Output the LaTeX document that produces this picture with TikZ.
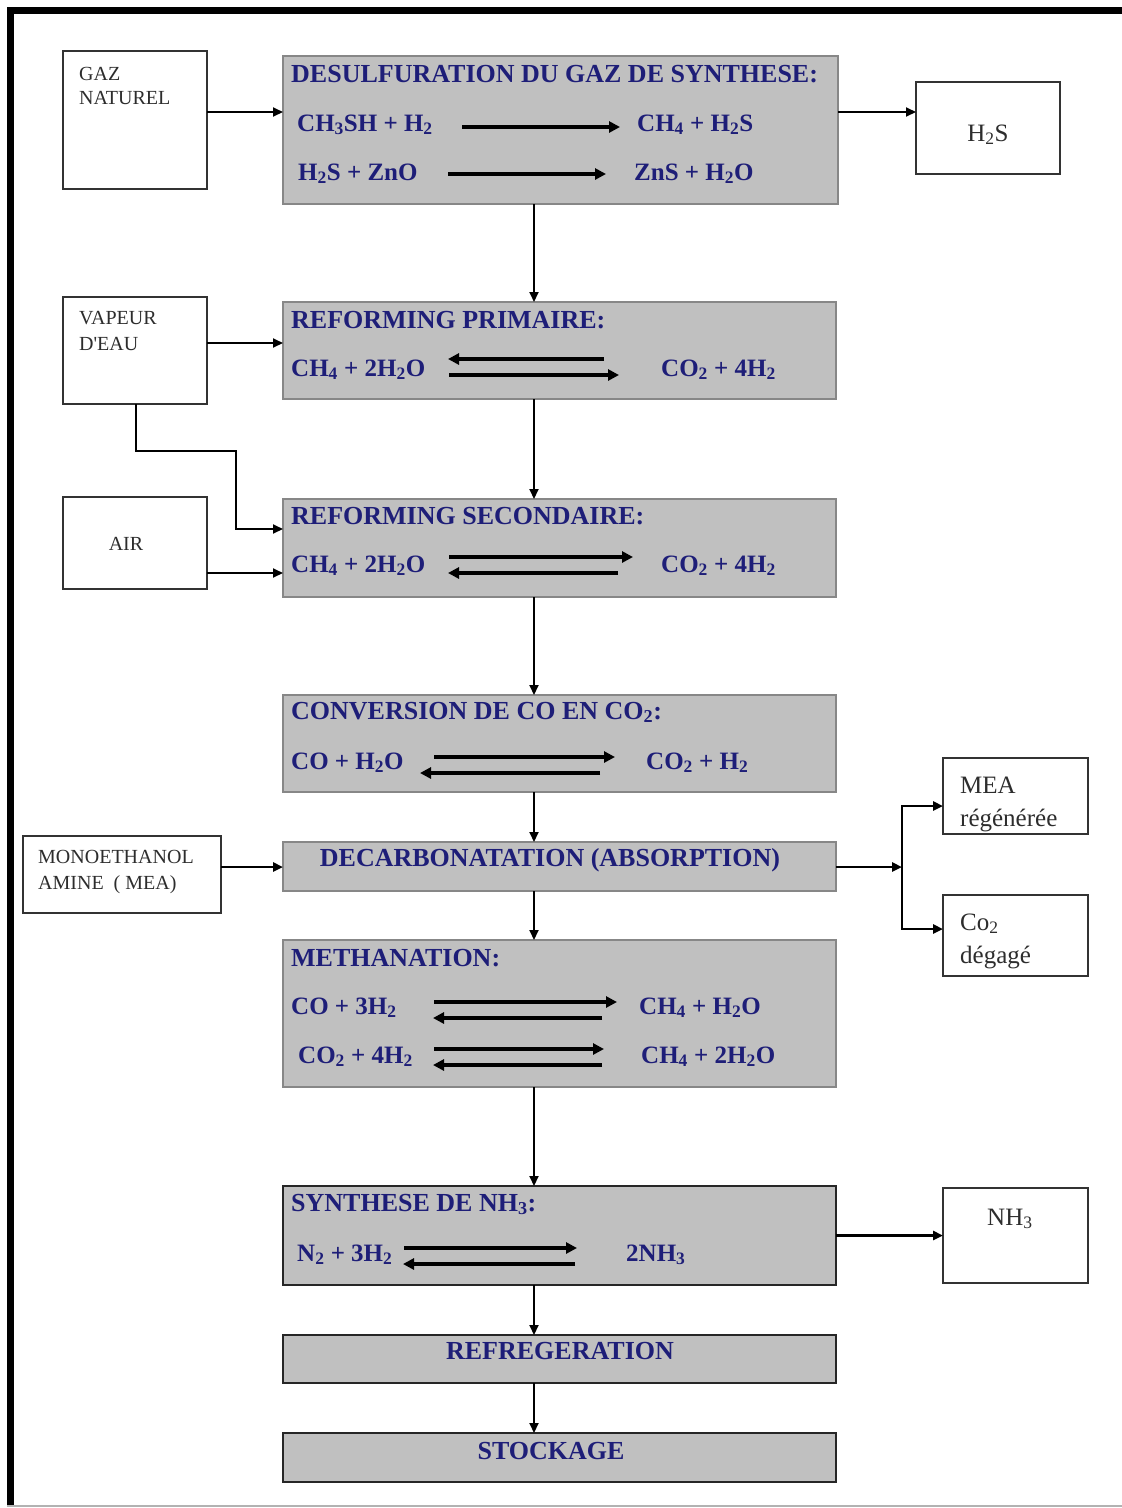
\documentclass[tikz,border=0pt]{standalone}
\usepackage{fontspec}
\setmainfont{Liberation Serif}[Ligatures=TeXOff]
\usetikzlibrary{arrows.meta}
\definecolor{ink}{RGB}{30,30,120}
\definecolor{panel}{RGB}{192,192,192}
\definecolor{panelrule}{RGB}{135,135,135}
\definecolor{labelink}{RGB}{45,45,45}
\newcommand{\sbs}[1]{\textsubscript{#1}}

\begin{document}
\begin{tikzpicture}[x=1pt,y=-1pt,
  stage/.style={draw=panelrule,line width=1.5pt,fill=panel,anchor=north west,inner sep=0pt,outer sep=0pt},
  stagedark/.style={stage,draw=black!85,line width=2.2pt},
  feed/.style={draw=black!80,line width=1.8pt,fill=white,anchor=north west,inner sep=0pt,outer sep=0pt},
  chem/.style={anchor=base west,inner sep=0pt,text=ink,font=\fontsize{25}{25}\selectfont\bfseries},
  title/.style={chem,font=\fontsize{26}{26}\selectfont\bfseries},
  ctitle/.style={title,anchor=base},
  lbl/.style={anchor=base west,inner sep=0pt,text=labelink,font=\fontsize{20}{20}\selectfont},
  lblbig/.style={lbl,font=\fontsize{25}{25}\selectfont},
  flow/.style={draw=black,line width=1.9pt,-{Triangle[length=10pt,width=9pt]}},
  heavyflow/.style={flow,line width=2.8pt},
  react/.style={draw=black,line width=3.2pt,-{Triangle[length=11pt,width=11pt]}},
]
% page and frame
\fill[white] (0,0) rectangle (1122,1508);
\useasboundingbox (0,0) rectangle (1122,1508);
\fill[black] (7,7) rectangle (14,1506);
\fill[black] (7,7) rectangle (1122,14);
\draw[black!30,line width=1.5pt] (7,1506) -- (1122,1506);

% helper coordinates for connector routing
\coordinate (spine) at (534,0);
\coordinate (y112) at (0,112);
\coordinate (y343) at (0,343);
\coordinate (y529) at (0,529);
\coordinate (y573) at (0,573);
\coordinate (y867) at (0,867);
\coordinate (y806) at (0,806);
\coordinate (y929) at (0,929);
\coordinate (elbowA) at (136,0);
\coordinate (elbowB) at (236,451);
\coordinate (split) at (902,867);

% process stages
\node[stage,minimum width=555pt,minimum height=148pt] (desulf) at (283,56) {};
\node[stage,minimum width=553pt,minimum height=97pt] (prim) at (283,302) {};
\node[stage,minimum width=553pt,minimum height=98pt] (sec) at (283,499) {};
\node[stage,minimum width=553pt,minimum height=97pt] (conv) at (283,695) {};
\node[stage,minimum width=553pt,minimum height=49pt] (decarb) at (283,842) {};
\node[stage,minimum width=553pt,minimum height=147pt] (meth) at (283,940) {};
\node[stagedark,minimum width=553pt,minimum height=99pt] (synth) at (283,1186) {};
\node[stagedark,minimum width=553pt,minimum height=48pt] (refr) at (283,1335) {};
\node[stagedark,minimum width=553pt,minimum height=49pt] (stock) at (283,1433) {};

% feeds and products
\node[feed,minimum width=144pt,minimum height=138pt] (gaz) at (63,51) {};
\node[feed,minimum width=144pt,minimum height=92pt] (h2s) at (916,82) {};
\node[feed,minimum width=144pt,minimum height=107pt] (vap) at (63,297) {};
\node[feed,minimum width=144pt,minimum height=92pt] (air) at (63,497) {};
\node[feed,minimum width=198pt,minimum height=77pt] (mono) at (23,836) {};
\node[feed,minimum width=145pt,minimum height=76pt] (mea) at (943,758) {};
\node[feed,minimum width=145pt,minimum height=81pt] (co2) at (943,895) {};
\node[feed,minimum width=145pt,minimum height=95pt] (nh3) at (943,1188) {};

% feed and product labels
\node[lbl] (gazA) at (79,80) {GAZ};
\node[lbl] (gazB) at (79,104) {NATUREL};
\node[lblbig,anchor=base] (h2sT) at (988,141) {H\sbs{2}S};
\node[lbl] (vapA) at (79,324) {VAPEUR};
\node[lbl] (vapB) at (79,350) {D'EAU};
\node[lbl,anchor=base] (airT) at (126,550) {AIR};
\node[lbl] (monoA) at (38,863) {MONOETHANOL};
\node[lbl] (monoB) at (38,889) {AMINE~~( MEA)};
\node[lblbig] (meaA) at (960,793) {MEA};
\node[lblbig] (meaB) at (960,826) {régénérée};
\node[lblbig] (co2A) at (960,930) {Co\sbs{2}};
\node[lblbig] (co2B) at (960,963) {dégagé};
\node[lblbig] (nh3T) at (987,1225) {NH\sbs{3}};

% desulfuration
\node[title] (t1) at (291,82) {DESULFURATION DU GAZ DE SYNTHESE:};
\node[chem] (r1a) at (297,131) {CH\sbs{3}SH + H\sbs{2}};
\node[chem] (p1a) at (637,131) {CH\sbs{4} + H\sbs{2}S};
\node[chem] (r1b) at (298,180) {H\sbs{2}S + ZnO};
\node[chem] (p1b) at (634,180) {ZnS + H\sbs{2}O};
\draw[react] (462,127) -- (620,127);
\draw[react] (448,174) -- (606,174);

% primary reforming
\node[title] (t2) at (291,328) {REFORMING PRIMAIRE:};
\node[chem] (r2) at (291,376) {CH\sbs{4} + 2H\sbs{2}O};
\node[chem] (p2) at (661,376) {CO\sbs{2} + 4H\sbs{2}};
\draw[react] (604,359) -- (448,359);
\draw[react] (449,375) -- (619,375);

% secondary reforming
\node[title] (t3) at (291,524) {REFORMING SECONDAIRE:};
\node[chem] (r3) at (291,572) {CH\sbs{4} + 2H\sbs{2}O};
\node[chem] (p3) at (661,572) {CO\sbs{2} + 4H\sbs{2}};
\draw[react] (449,557) -- (633,557);
\draw[react] (618,573) -- (448,573);

% CO shift conversion
\node[title] (t4) at (291,719) {CONVERSION DE CO EN CO\sbs{2}:};
\node[chem] (r4) at (291,769) {CO + H\sbs{2}O};
\node[chem] (p4) at (646,769) {CO\sbs{2} + H\sbs{2}};
\draw[react] (434,757) -- (615,757);
\draw[react] (600,773) -- (420,773);

% CO2 removal
\node[ctitle] (t5) at (550,866) {DECARBONATATION (ABSORPTION)};

% methanation
\node[title] (t6) at (291,966) {METHANATION:};
\node[chem] (r6a) at (291,1014) {CO + 3H\sbs{2}};
\node[chem] (p6a) at (639,1014) {CH\sbs{4} + H\sbs{2}O};
\node[chem] (r6b) at (298,1063) {CO\sbs{2} + 4H\sbs{2}};
\node[chem] (p6b) at (641,1063) {CH\sbs{4} + 2H\sbs{2}O};
\draw[react] (434,1002) -- (617,1002);
\draw[react] (602,1018) -- (433,1018);
\draw[react] (434,1049) -- (604,1049);
\draw[react] (602,1065) -- (433,1065);

% ammonia synthesis
\node[title] (t7) at (291,1211) {SYNTHESE DE NH\sbs{3}:};
\node[chem] (r7) at (297,1261) {N\sbs{2} + 3H\sbs{2}};
\node[chem] (p7) at (626,1261) {2NH\sbs{3}};
\draw[react] (404,1248) -- (577,1248);
\draw[react] (575,1264) -- (403,1264);

% final steps
\node[ctitle] (t8) at (560,1359) {REFREGERATION};
\node[ctitle] (t9) at (551,1459) {STOCKAGE};

% connectors
\draw[flow] (gaz.east |- y112) -- (desulf.west |- y112);
\draw[flow] (desulf.east |- y112) -- (h2s.west |- y112);
\draw[flow] (desulf.south -| spine) -- (prim.north -| spine);
\draw[flow] (vap.east |- y343) -- (prim.west |- y343);
\draw[flow] (vap.south -| elbowA) |- (elbowB) |- (sec.west |- y529);
\draw[flow] (prim.south -| spine) -- (sec.north -| spine);
\draw[flow] (air.east |- y573) -- (sec.west |- y573);
\draw[flow] (sec.south -| spine) -- (conv.north -| spine);
\draw[flow] (conv.south -| spine) -- (decarb.north -| spine);
\draw[heavyflow] (mono.east |- y867) -- (decarb.west |- y867);
\draw[heavyflow] (decarb.east |- y867) -- (split);
\draw[heavyflow] (split) |- (mea.west |- y806);
\draw[heavyflow] (split) |- (co2.west |- y929);
\draw[flow] (decarb.south -| spine) -- (meth.north -| spine);
\draw[flow] (meth.south -| spine) -- (synth.north -| spine);
\draw[heavyflow] (synth.east) -- (nh3.west);
\draw[flow] (synth.south -| spine) -- (refr.north -| spine);
\draw[flow] (refr.south -| spine) -- (stock.north -| spine);
\end{tikzpicture}
\end{document}
